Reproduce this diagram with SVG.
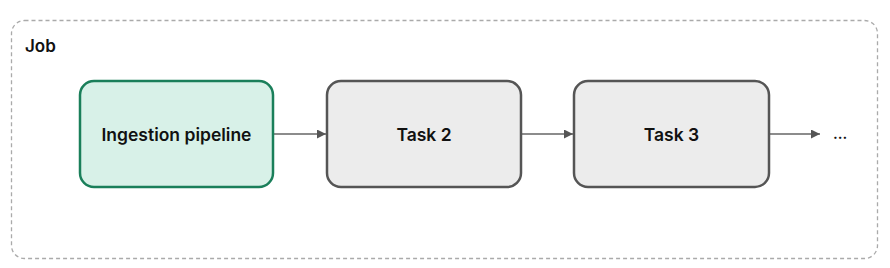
<svg xmlns="http://www.w3.org/2000/svg" width="890" height="268" viewBox="0 0 890 268">
<style>
text{font-family:Inter,"Liberation Sans",sans-serif;font-weight:600;fill:#111}
.lbl{font-size:17.5px;text-anchor:middle;dominant-baseline:central}
.task{fill:#ececec;stroke:#555;stroke-width:2.5}
.edge{stroke:#666;stroke-width:1.3;fill:none}
</style>
<defs>
<marker id="ah" viewBox="0 0 10 10" refX="10" refY="5" markerWidth="9" markerHeight="9" markerUnits="userSpaceOnUse" orient="auto">
<path d="M0,0 L10,5 L0,10 z" fill="#555"/>
</marker>
</defs>
<g id="job">
<rect x="11.5" y="20.5" width="866" height="238" rx="13" fill="none" stroke="#aaa" stroke-width="1.3" stroke-dasharray="4,3"/>
<text x="25" y="52" font-size="17">Job</text>
</g>
<g id="connectors">
<line class="edge" x1="274" y1="134" x2="326" y2="134" marker-end="url(#ah)"/>
<line class="edge" x1="522" y1="134" x2="573" y2="134" marker-end="url(#ah)"/>
<line class="edge" x1="770" y1="134" x2="820" y2="134" marker-end="url(#ah)"/>
</g>
<g id="ingestion">
<rect x="80" y="81" width="193" height="106" rx="14" fill="#d8f1e8" stroke="#1a7f5a" stroke-width="2.5"/>
<text class="lbl" x="176.5" y="134">Ingestion pipeline</text>
</g>
<g id="task2">
<rect class="task" x="327" y="81" width="194" height="106" rx="14"/>
<text class="lbl" x="424" y="134">Task 2</text>
</g>
<g id="task3">
<rect class="task" x="574" y="81" width="195" height="106" rx="14"/>
<text class="lbl" x="671.5" y="134">Task 3</text>
</g>
<g id="more">
<text x="833" y="139" font-size="15">...</text>
</g>
</svg>
